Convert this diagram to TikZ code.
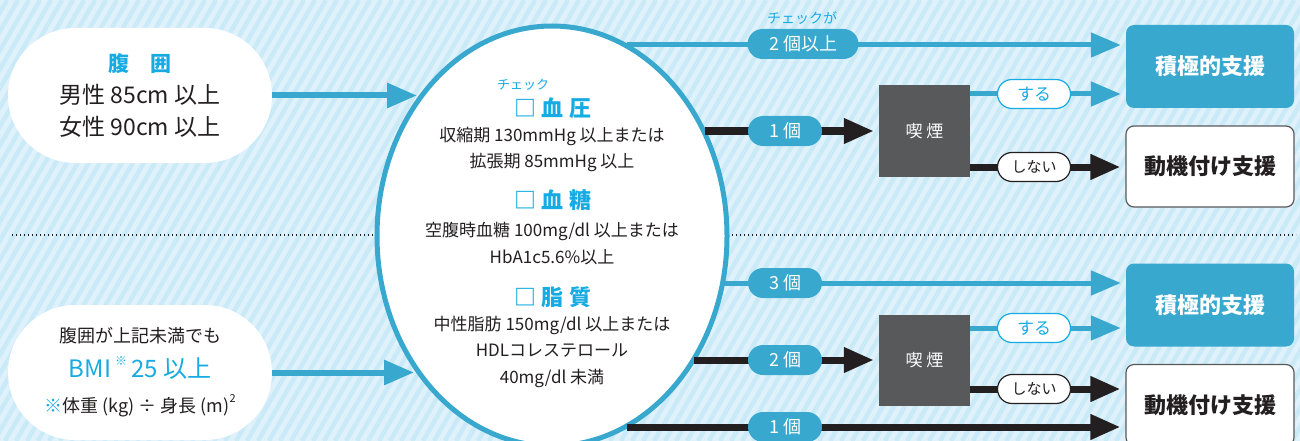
\documentclass[tikz,border=0pt]{standalone}
\usepackage{fontspec}
\setmainfont{Noto Sans CJK JP}
\usetikzlibrary{arrows.meta,shapes.geometric,shapes.misc,positioning}

\definecolor{bgblue}{HTML}{DFF2FB}
\definecolor{stripeblue}{HTML}{CBEAF8}
\definecolor{lineblue}{HTML}{38A8CE}
\definecolor{textblue}{HTML}{17ABE3}
\definecolor{smokegray}{HTML}{58595B}
\definecolor{inkblack}{HTML}{231F20}

\newcommand{\fsz}[1]{\fontsize{#1}{#1}\selectfont}

\begin{document}
\begin{tikzpicture}[x=1pt, y=-1pt,
    bubble/.style={rounded rectangle, fill=white, minimum width=264pt,
      minimum height=135pt, inner sep=0pt, align=center, text=inkblack},
    head/.style={text=textblue, font=\fsz{22}\bfseries, inner sep=0pt},
    item/.style={text=inkblack, font=\fsz{17}, inner sep=0pt},
    ruby/.style={text=textblue, font=\fsz{13}, inner sep=0pt},
    posbox/.style={rectangle, rounded corners=8pt, fill=lineblue, text=white,
      minimum width=168pt, minimum height=83pt, font=\fsz{22}\bfseries},
    motbox/.style={rectangle, rounded corners=8pt, fill=white, draw=smokegray,
      line width=1.2pt, text=inkblack, minimum width=168pt, minimum height=81pt,
      font=\fsz{22}\bfseries},
    smoke/.style={rectangle, fill=smokegray, text=white, minimum width=91pt,
      minimum height=91pt, font=\fsz{17}},
    pill/.style={rounded rectangle, fill=lineblue, text=white, minimum height=30pt,
      inner sep=0pt, font=\fsz{18}},
    yespill/.style={rounded rectangle, fill=white, draw=textblue, line width=1.2pt,
      text=textblue, minimum width=73pt, minimum height=29pt, inner sep=0pt,
      font=\fsz{17}},
    nopill/.style={rounded rectangle, fill=white, draw=inkblack, line width=1.2pt,
      text=inkblack, minimum width=73pt, minimum height=29pt, inner sep=0pt,
      font=\fsz{15}},
    bluearrow/.style={draw=lineblue, line width=5pt, shorten >=5pt,
      -{Triangle[length=30pt, width=24pt]}},
    blackarrow/.style={draw=inkblack, line width=7pt, shorten >=5pt,
      -{Triangle[length=30pt, width=24pt]}}]

  \useasboundingbox (0,0) rectangle (1300,441);

  % Striped background
  \begin{scope}
    \clip (0,0) rectangle (1300,441);
    \fill[bgblue] (0,0) rectangle (1300,441);
    \foreach \i in {-270,-259,...,1300}
      \draw[stripeblue, line width=4.5pt] (\i,441) -- ++(255,-441);
  \end{scope}

  % Dotted separator
  \draw[inkblack, line width=1.3pt, dash pattern=on 1.3pt off 2.7pt] (12,235) -- (1296,235);

  % Left bubbles
  \node[bubble, font=\fsz{23}\linespread{1}] (waist) at (140,95.5)
    {{\color{textblue}\fsz{21}\bfseries 腹　囲}\\[9pt]男性 85cm 以上\\[9pt]女性 90cm 以上};
  \node[bubble, font=\fontsize{18}{35}\selectfont] (bmi) at (140,372.5)
    {腹囲が上記未満でも\\
     {\color{textblue}\fontsize{24}{35}\selectfont BMI\,\raisebox{0.5em}{\fsz{12}※}\,25 以上}\\
     {\color{textblue}※}体重 (kg) ÷ 身長 (m)\raisebox{0.55em}{\fsz{11}2}};

  % Check ellipse
  \node[ellipse, draw=lineblue, line width=5pt, fill=white, minimum width=350pt,
    minimum height=420pt, inner sep=0pt] (check) at (552,236) {};

  % Texts inside the ellipse
  \node[ruby] (rubyBP) at (523,85) {チェック};
  \node[head] (bp) at (553,108) {□ 血 圧};
  \node[item] (bpA) at (552,136) {収縮期 130mmHg 以上または};
  \node[item] (bpB) at (552,162) {拡張期 85mmHg 以上};
  \node[head] (sugar) at (553,200) {□ 血 糖};
  \node[item] (sugarA) at (552,231) {空腹時血糖 100mg/dl 以上または};
  \node[item] (sugarB) at (552,257) {HbA1c5.6\%以上};
  \node[head] (lipid) at (553,297) {□ 脂 質};
  \node[item] (lipidA) at (552,325) {中性脂肪 150mg/dl 以上または};
  \node[item] (lipidB) at (552,351) {HDLコレステロール};
  \node[item] (lipidC) at (552,378) {40mg/dl 未満};

  % Support boxes
  \node[posbox] (posA) at (1210,66.5) {積極的支援};
  \node[motbox] (motA) at (1210,166.5) {動機付け支援};
  \node[posbox] (posB) at (1210,305) {積極的支援};
  \node[motbox] (motB) at (1210,405) {動機付け支援};

  % Smoking boxes
  \node[smoke] (smokeA) at (924.5,131) {喫 煙};
  \node[smoke] (smokeB) at (924.5,360) {喫 煙};

  % Points on the ellipse border and on the branches
  \coordinate (in1) at (417,95.5);
  \coordinate (in2) at (414,372.5);
  \coordinate (out1) at (627,45);
  \coordinate (out2) at (705,131);
  \coordinate (out3) at (724,283);
  \coordinate (out4) at (694,360);
  \coordinate (out5) at (627,427);
  \coordinate (yA) at (1034,94);
  \coordinate (nA) at (1034,167);
  \coordinate (yB) at (1034,328);
  \coordinate (nB) at (1034,389);

  % Connectors
  \draw[bluearrow, line width=6pt, shorten >=0pt] (waist.east) -- (in1);
  \draw[bluearrow, line width=6pt, shorten >=0pt] (bmi.east) -- (in2);
  \draw[bluearrow] (out1) -- (posA.west |- out1);
  \draw[blackarrow] (out2) -- (smokeA.west |- out2);
  \draw[bluearrow] (smokeA.east |- yA) -- (posA.west |- yA);
  \draw[blackarrow] (smokeA.east |- nA) -- (motA.west |- nA);
  \draw[bluearrow] (out3) -- (posB.west |- out3);
  \draw[blackarrow] (out4) -- (smokeB.west |- out4);
  \draw[bluearrow] (smokeB.east |- yB) -- (posB.west |- yB);
  \draw[blackarrow] (smokeB.east |- nB) -- (motB.west |- nB);
  \draw[blackarrow] (out5) -- (motB.west |- out5);

  % Count labels
  \node[ruby, font=\fsz{14}] (rubyTwo) at (802,18) {チェックが};
  \node[pill, minimum width=111pt] (twoPlus) at (803,44) {2 個以上};
  \node[pill, minimum width=74pt] (oneA) at (785,131) {1 個};
  \node[pill, minimum width=74pt] (three) at (785,283) {3 個};
  \node[pill, minimum width=74pt] (two) at (785,360) {2 個};
  \node[pill, minimum width=74pt] (oneB) at (785,427) {1 個};
  \node[yespill] (yesA) at (yA) {する};
  \node[nopill] (noA) at (nA) {しない};
  \node[yespill] (yesB) at (yB) {する};
  \node[nopill] (noB) at (nB) {しない};
\end{tikzpicture}
\end{document}
